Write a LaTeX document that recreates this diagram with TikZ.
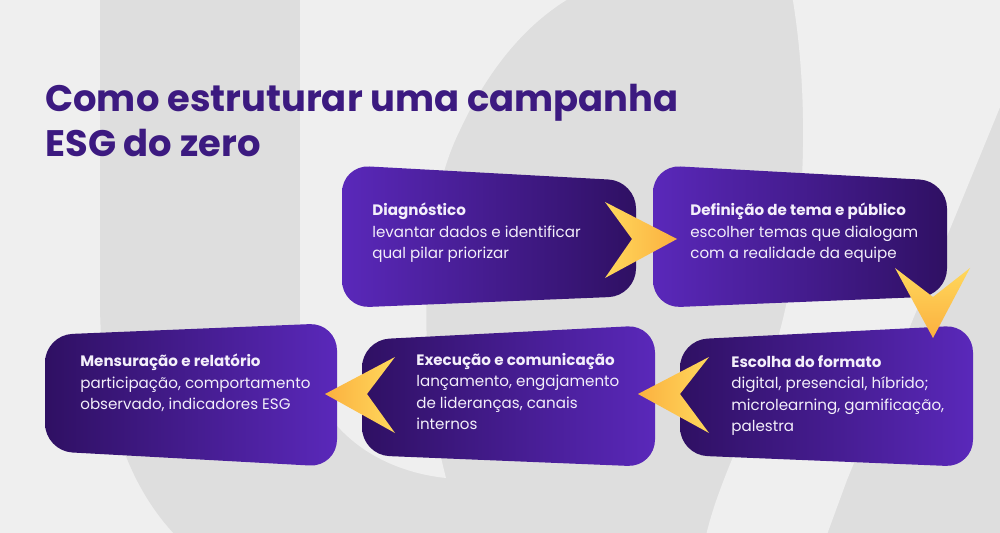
\documentclass[tikz,border=0pt]{standalone}
\usepackage{fontspec}
\setmainfont{Poppins}
\usetikzlibrary{positioning}
\definecolor{bgl}{HTML}{EFEFEF}
\definecolor{bgd}{HTML}{DEDEDE}
\definecolor{violetL}{HTML}{5A28BA}
\definecolor{violetD}{HTML}{2F1063}
\definecolor{titlec}{HTML}{3C1A80}
\definecolor{gold}{HTML}{FFD85C}
\definecolor{amber}{HTML}{FBB03F}
\definecolor{cardtxt}{HTML}{F3EFFA}
\tikzset{
  every picture/.style={line join=round, line cap=round},
  cardR/.style={left color=violetL, right color=violetD, rounded corners=0.55cm},
  cardL/.style={left color=violetD, right color=violetL, rounded corners=0.55cm},
  cardtext/.style={anchor=north west, inner sep=0pt, align=left, text=cardtxt,
    font=\fontsize{8.6}{12.2}\selectfont},
  chevR/.style={left color=gold, right color=amber},
  chevL/.style={left color=amber, right color=gold},
  chevD/.style={top color=gold, bottom color=amber},
}

\begin{document}
\begin{tikzpicture}[x=0.02cm, y=-0.02cm]
\useasboundingbox (0,0) rectangle (1000,533);
\begin{scope}
\clip (0,0) rectangle (1000,533);
\fill[bgl] (0,0) rectangle (1000,533);
\fill[bgd] (100,-5) -- (100,300) .. controls (100,430) and (140,500) .. (180,540) -- (1005,540) -- (1005,-5) -- cycle;
\fill[bgl] (300,-5) -- (300,320) .. controls (300,420) and (370,470) .. (446,478) .. controls (420,380) and (415,220) .. (460,130) .. controls (490,65) and (530,20) .. (575,-5) -- cycle;
\fill[bgl] (792,-5) .. controls (810,100) and (805,220) .. (785,310) .. controls (765,400) and (720,470) .. (705,540) -- (825,540) -- (847,480) -- (1005,95) -- (1005,-5) -- cycle;
\end{scope}

\node[anchor=north west, inner sep=0pt, align=left, text=titlec,
  font=\bfseries\fontsize{21}{25.6}\selectfont] (title) at (45,84)
  {Como estruturar uma campanha\\ESG do zero};

\shade[cardR] (342,165) -- (636,181) -- (636,296) -- (342,308) -- cycle;
\shade[cardR] (653,165) -- (947,181) -- (947,296) -- (653,308) -- cycle;
\shade[cardL] (45,335) -- (337,323) -- (337,467) -- (45,451) -- cycle;
\shade[cardL] (362,340) -- (655,325) -- (655,467) -- (362,455) -- cycle;
\shade[cardL] (680,340) -- (973,325) -- (973,467) -- (680,455) -- cycle;

\shade[chevR] (605,202) -- (677,239) -- (605,278) -- (632,239) -- cycle;
\shade[chevD] (895,268) -- (933,297) -- (970,268) -- (933,338) -- cycle;
\shade[chevL] (709,357) -- (638,394) -- (709,433) -- (680,394) -- cycle;
\shade[chevL] (395,357) -- (325,394) -- (395,433) -- (367,394) -- cycle;

\node[cardtext] (diag) at (372,203)
  {\textbf{Diagnóstico}\\levantar dados e identificar\\qual pilar priorizar};
\node[cardtext] (tema) at (690,203)
  {\textbf{Definição de tema e público}\\escolher temas que dialogam\\com a realidade da equipe};
\node[cardtext] (formato) at (731,355)
  {\textbf{Escolha do formato}\\digital, presencial, híbrido;\\microlearning, gamificação,\\palestra};
\node[cardtext] (execucao) at (416,353)
  {\textbf{Execução e comunicação}\\lançamento, engajamento\\de lideranças, canais\\internos};
\node[cardtext] (mensura) at (80,354)
  {\textbf{Mensuração e relatório}\\participação, comportamento\\observado, indicadores ESG};
\end{tikzpicture}
\end{document}
